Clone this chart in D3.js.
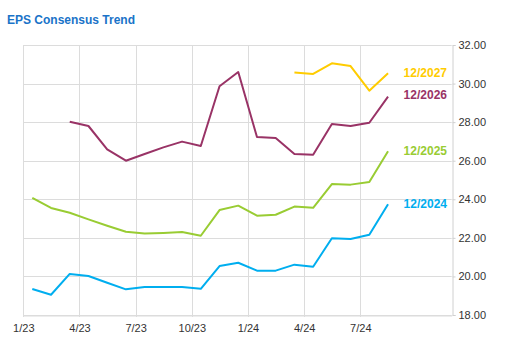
<!DOCTYPE html>
<meta charset="utf-8">
<script src="https://d3js.org/d3.v7.min.js"></script>
<style>
  body { margin: 0; background: #fff; }
  svg text { font-family: Arial, "Liberation Sans", sans-serif; }
</style>
<body>
<script>

var width = 505
var height = 354

// months Jan 2023 .. Aug 2024, one estimate per month
var months = ["1/23","2/23","3/23","4/23","5/23","6/23","7/23","8/23","9/23","10/23","11/23","12/23",
              "1/24","2/24","3/24","4/24","5/24","6/24","7/24","8/24"]
var tickLabels = ["1/23","4/23","7/23","10/23","1/24","4/24","7/24"]
var yTicks = [18, 20, 22, 24, 26, 28, 30, 32]

var fy2024 = [19.35,19.05,20.13,20.02,19.67,19.33,19.45,19.45,19.45,19.36,20.54,20.71,
              20.30,20.30,20.61,20.50,21.98,21.94,22.16,23.74]
var fy2025 = [24.07,23.55,23.30,22.96,22.63,22.32,22.22,22.25,22.30,22.11,23.44,23.67,
              23.15,23.20,23.62,23.56,24.79,24.76,24.90,26.49]
var fy2026 = [null,null,28.02,27.80,26.59,26.00,26.35,26.69,26.99,26.76,29.86,30.60,
              27.23,27.18,26.35,26.31,27.90,27.80,27.97,29.32]
var fy2027 = [null,null,null,null,null,null,null,null,null,null,null,null,
              null,null,30.58,30.50,31.05,30.91,29.63,30.53]

var series = [
  { name: "12/2024", values: fy2024, color: "#00aeef" },
  { name: "12/2025", values: fy2025, color: "#99cc33" },
  { name: "12/2026", values: fy2026, color: "#993366" },
  { name: "12/2027", values: fy2027, color: "#ffcc00" }
]

var x = d3.scaleLinear().domain([0, 22.88]).range([23.3, 451.7])
var y = d3.scaleLinear().domain([18, 32]).range([315, 45])

var svg = d3.select("body").append("svg")
  .attr("width", width)
  .attr("height", height)

svg.append("text")
  .attr("x", 7).attr("y", 24)
  .attr("fill", "#1a73c8")
  .style("font-size", "12px")
  .style("font-weight", "bold")
  .text("EPS Consensus Trend")

// horizontal grid
svg.append("g")
  .selectAll("line").data(yTicks).join("line")
  .attr("x1", x(0)).attr("x2", x.range()[1])
  .attr("y1", d => Math.round(y(d)) + 0.5).attr("y2", d => Math.round(y(d)) + 0.5)
  .attr("stroke", "#dcdcdc")

// vertical grid
var tickIdx = tickLabels.map(t => months.indexOf(t))
svg.append("g")
  .selectAll("line").data(tickIdx).join("line")
  .attr("x1", d => Math.round(x(d)) + 0.5).attr("x2", d => Math.round(x(d)) + 0.5)
  .attr("y1", y(32)).attr("y2", y(18) + 2)
  .attr("stroke", "#dcdcdc")

// right axis
var yAxis = svg.append("g")
  .attr("transform", "translate(" + (Math.round(x.range()[1]) + 0.5) + ",0)")
  .call(d3.axisRight(y).tickValues(yTicks).tickSize(3).tickPadding(3).tickFormat(d3.format(".2f")))
yAxis.select(".domain").attr("stroke", "#d0d0d0")
yAxis.selectAll(".tick line").attr("stroke", "#d0d0d0")
yAxis.selectAll("text").attr("fill", "#333").style("font-size", "11px")

// bottom axis
var xAxis = svg.append("g")
  .attr("transform", "translate(0," + (Math.round(y(18)) + 0.5) + ")")
  .call(d3.axisBottom(x).tickValues(tickIdx).tickSize(0).tickPadding(9)
    .tickFormat((d, i) => tickLabels[i]))
xAxis.select(".domain").attr("stroke", "#dcdcdc")
xAxis.selectAll("text").attr("fill", "#333").style("font-size", "11px")

var line = d3.line()
  .defined(d => d != null)
  .x((d, i) => x(i + 0.48))
  .y(d => y(d))

svg.append("g")
  .selectAll("path").data(series).join("path")
  .attr("d", s => line(s.values))
  .attr("fill", "none")
  .attr("stroke", s => s.color)
  .attr("stroke-width", 2)
  .attr("stroke-linejoin", "round")

// end labels
var labelY = { "12/2024": 204, "12/2025": 151, "12/2026": 95, "12/2027": 73 }
svg.append("g")
  .selectAll("text").data(series).join("text")
  .attr("x", 447)
  .attr("y", s => labelY[s.name])
  .attr("dy", "0.35em")
  .attr("text-anchor", "end")
  .attr("fill", s => s.color)
  .style("font-size", "12px")
  .style("font-weight", "bold")
  .text(s => s.name)

</script>
</body>
